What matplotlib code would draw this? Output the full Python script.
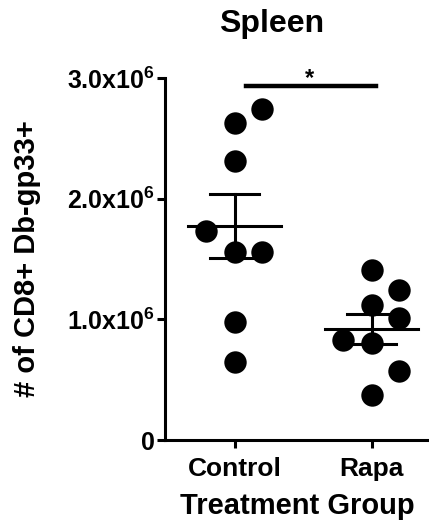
import numpy as np
import matplotlib
matplotlib.use('Agg')
import matplotlib.pyplot as plt

plt.rcParams['font.family'] = ['Liberation Sans', 'DejaVu Sans']
plt.rcParams['font.weight'] = 'bold'
plt.rcParams['mathtext.fontset'] = 'custom'
plt.rcParams['mathtext.rm'] = 'Liberation Sans:bold'
plt.rcParams['mathtext.bf'] = 'Liberation Sans:bold'

# data (cells, x1e6)
groups = ['Control', 'Rapa']
control = [2.74, 2.63, 2.31, 1.73, 1.56, 1.56, 0.98, 0.65]
control_dx = [0.2, 0.0, 0.0, -0.21, 0.0, 0.2, 0.0, 0.0]
rapa = [1.41, 1.24, 1.12, 1.01, 0.83, 0.80, 0.575, 0.37]
rapa_dx = [0.0, 0.2, 0.0, 0.2, -0.21, 0.0, 0.2, 0.0]
yticks = [0, 1.0, 2.0, 3.0]
ytick_labels = ['0', r'$\mathbf{1.0x10^{6}}$', r'$\mathbf{2.0x10^{6}}$',
                r'$\mathbf{3.0x10^{6}}$']

fig = plt.figure(figsize=(4.29, 5.29), dpi=100)
ax = fig.add_axes([165 / 429, 89 / 529, 1 - 165 / 429, (440 - 78) / 529])

for i, (vals, dx) in enumerate([(control, control_dx), (rapa, rapa_dx)]):
    vals = np.array(vals)
    xs = i + np.array(dx)
    ax.scatter(xs, vals, s=260, color='black', zorder=3, linewidths=0)
    m = vals.mean()
    sem = vals.std(ddof=1) / np.sqrt(len(vals))
    ax.plot([i - 0.34, i + 0.34], [m, m], color='black', lw=2.2, zorder=4)
    ax.plot([i, i], [m - sem, m + sem], color='black', lw=2.2, zorder=4)
    for y in (m - sem, m + sem):
        ax.plot([i - 0.18, i + 0.18], [y, y], color='black', lw=2.2, zorder=4)

# significance bar
ax.plot([0.08, 1.03], [2.93, 2.93], color='black', lw=3.2, clip_on=False)
ax.text(0.55, 2.9, '*', ha='center', va='bottom', fontsize=17,
        fontweight='bold')

ax.set_xlim(-0.51, 1.42)
ax.set_ylim(0, 3.0)
ax.set_xticks([0, 1])
ax.set_xticklabels(groups, fontsize=19)
ax.set_yticks(yticks)
ax.set_yticklabels(ytick_labels, fontsize=18)
ax.set_xlabel('Treatment Group', fontsize=21, fontweight='bold', labelpad=8)
ax.set_ylabel('# of CD8+ Db-gp33+', fontsize=21, fontweight='bold')
ax.yaxis.set_label_coords(-124 / 264, 0.5)

for s in ['top', 'right']:
    ax.spines[s].set_visible(False)
for s in ['left', 'bottom']:
    ax.spines[s].set_linewidth(2.2)
ax.tick_params(width=2.2, length=6, pad=1)
ax.tick_params(axis='x', pad=6)

fig.text(272 / 429, 1 - 24 / 529, 'Spleen', ha='center', va='center',
         fontsize=23, fontweight='bold')

fig.savefig('out.png', dpi=100)
